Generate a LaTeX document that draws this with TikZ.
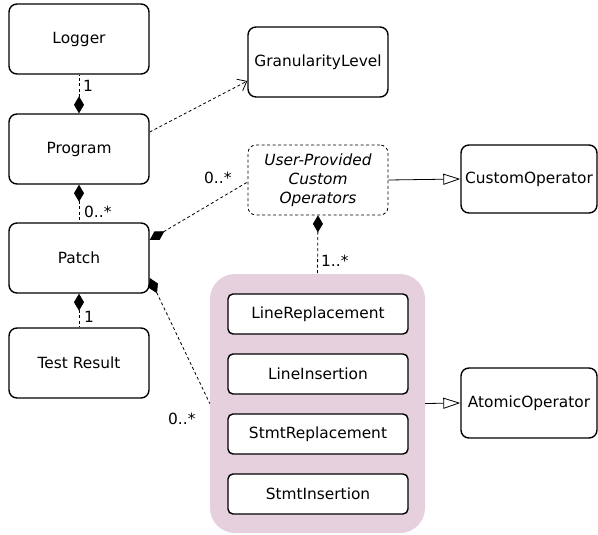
\documentclass[tikz,border=0pt]{standalone}
\usepackage{fontspec}
\setmainfont{DejaVu Sans}
\usetikzlibrary{arrows.meta}
\definecolor{grppink}{HTML}{E6D0DE}
\begin{document}
\begin{tikzpicture}[x=1pt,y=-1pt,
  txt/.style={font=\fontsize{15.4}{19}\selectfont},
  cls/.style={txt, draw, line width=1.4pt, rounded corners=8pt, fill=white,
    minimum width=140pt, minimum height=70pt, inner sep=0pt, align=center},
  opbox/.style={txt, draw, line width=1.4pt, rounded corners=5pt, fill=white,
    minimum width=180pt, minimum height=40pt, inner sep=0pt},
  conn/.style={line width=0.8pt},
  dsh/.style={dash pattern=on 3pt off 2.5pt},
  compo/.style={{Diamond[length=17pt,width=10pt]}-},
  gen/.style={-{Triangle[open,length=17pt,width=11pt]}},
  dep/.style={-{Straight Barb[length=8pt,width=13pt]}},
  lbl/.style={txt, inner sep=0pt, anchor=west}
]
\useasboundingbox (0,0) rectangle (598,535);

% group
\node[fill=grppink, rounded corners=25pt, minimum width=215pt, minimum height=259pt,
      inner sep=0pt] (grp) at (317.5,403.5) {};

% class boxes
\node[cls] (logger)  at (79,39)  {Logger};
\node[cls] (program) at (79,149) {Program};
\node[cls] (patch)   at (79,258) {Patch};
\node[cls] (test)    at (79,363) {Test Result};
\node[cls] (gran)    at (318,62) {GranularityLevel};
\node[cls, line width=0.8pt, dsh, font=\fontsize{15.4}{19}\selectfont\itshape]
      (upco) at (318,180) {User-Provided\\Custom\\Operators};
\node[cls, minimum width=136pt, minimum height=68pt] (custom) at (529,179) {CustomOperator};
\node[cls, minimum width=136pt] (atomic) at (529,403) {AtomicOperator};

% operators inside group
\node[opbox] (lr) at (318,314) {LineReplacement};
\node[opbox] (li) at (318,374) {LineInsertion};
\node[opbox] (sr) at (318,434) {StmtReplacement};
\node[opbox] (si) at (318,494) {StmtInsertion};

% connectors
\draw[conn, dsh, compo] (program.north) -- (logger.south);
\draw[conn, dsh, compo] (program.south) -- (patch.north);
\draw[conn, dsh, compo] (patch.south) -- (test.north);
\draw[conn, dsh, dep] ([yshift=17pt]program.east) -- ([yshift=-19pt]gran.west);
\draw[conn, dsh, compo] ([yshift=18pt]patch.east) -- ([yshift=-2pt]upco.west);
\draw[conn, dsh, compo] ([yshift=-20pt]patch.east) -- (grp.west);
\draw[conn, dsh, compo] (upco.south) -- (grp.north);
\draw[conn, gen] (upco.east) -- (custom.west);
\draw[conn, gen] (grp.east) -- (atomic.west);

% multiplicities
\node[lbl] (m1) at (83,86) {1};
\node[lbl] (m2) at (84,212) {0..*};
\node[lbl] (m3) at (84,317) {1};
\node[lbl] (m4) at (204,178) {0..*};
\node[lbl] (m5) at (321,261) {1..*};
\node[lbl] (m6) at (168,419) {0..*};
\end{tikzpicture}
\end{document}
